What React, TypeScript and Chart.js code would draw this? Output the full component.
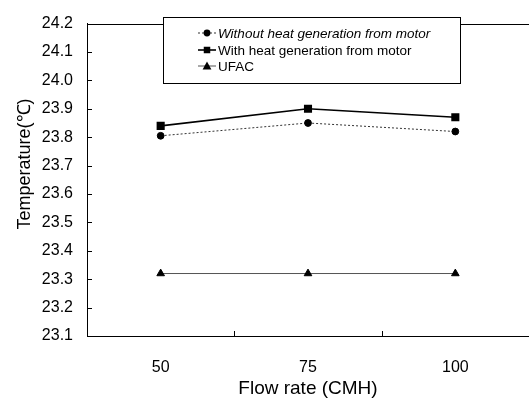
import React, { useEffect, useRef } from "react";
import { Chart, registerables } from "chart.js";

Chart.register(...registerables);

const categories = ["50", "75", "100"];
const seriesLabels = [
  "Without heat generation from motor",
  "With heat generation from motor",
  "UFAC",
];
const withoutHeat = [23.805, 23.85, 23.82];
const withHeat = [23.84, 23.9, 23.87];
const ufac = [23.32, 23.32, 23.32];
const yMin = 23.1;
const yMax = 24.2;
const yStep = 0.1;
const yTitle = "Temperature(℃)";
const xTitle = "Flow rate (CMH)";

const FONT = "'Liberation Sans', Arial, sans-serif";

const framePlugin = {
  id: "frame",
  afterDraw(chart: any) {
    const { ctx, chartArea: a, scales } = chart;
    const x = scales.x;
    const y = scales.y;
    ctx.save();
    ctx.strokeStyle = "#000";
    ctx.lineWidth = 1;
    const line = (x1: number, y1: number, x2: number, y2: number) => {
      ctx.beginPath();
      ctx.moveTo(x1, y1);
      ctx.lineTo(x2, y2);
      ctx.stroke();
    };
    // top border
    line(a.left, Math.round(a.top) + 0.5, a.right, Math.round(a.top) + 0.5);
    // inward y ticks
    y.ticks.forEach((_t: any, i: number) => {
      const py = Math.round(y.getPixelForTick(i)) + 0.5;
      line(a.left, py, a.left + 5, py);
    });
    // inward x ticks between categories
    for (let i = 1; i < x.ticks.length; i++) {
      const px = Math.round((x.getPixelForTick(i - 1) + x.getPixelForTick(i)) / 2) + 0.5;
      line(px, a.bottom, px, a.bottom - 5);
    }
    // y axis title
    ctx.save();
    ctx.translate(25, 164);
    ctx.rotate(-Math.PI / 2);
    ctx.fillStyle = "#000";
    ctx.font = "18px " + FONT;
    ctx.textAlign = "center";
    ctx.textBaseline = "middle";
    ctx.fillText(yTitle, 0, 0);
    ctx.restore();
    // legend box
    const lx = 163.5;
    const ly = 17.5;
    const lw = 297;
    const lh = 66;
    ctx.fillStyle = "#fff";
    ctx.fillRect(lx, ly, lw, lh);
    ctx.strokeStyle = "#000";
    ctx.strokeRect(lx, ly, lw, lh);
    const rows = [33, 50, 66];
    chart.data.datasets.forEach((ds: any, i: number) => {
      const ry = rows[i];
      ctx.save();
      ctx.strokeStyle = ds.borderColor;
      ctx.lineWidth = ds.borderWidth;
      ctx.setLineDash(ds.borderDash || []);
      line(198, ry, 216, ry);
      ctx.restore();
      ctx.save();
      ctx.fillStyle = "#000";
      const r = ds.pointRadius;
      ctx.beginPath();
      if (ds.pointStyle === "circle") {
        ctx.arc(207, ry, r, 0, Math.PI * 2);
      } else if (ds.pointStyle === "rect") {
        const s = r * Math.SQRT1_2;
        ctx.rect(207 - s, ry - s, 2 * s, 2 * s);
      } else {
        ctx.moveTo(207, ry - r);
        ctx.lineTo(207 + r, ry + r * 0.8);
        ctx.lineTo(207 - r, ry + r * 0.8);
        ctx.closePath();
      }
      ctx.fill();
      ctx.restore();
      ctx.fillStyle = "#000";
      ctx.font = (i === 0 ? "italic 13.5px " : "13.5px ") + FONT;
      ctx.textBaseline = "middle";
      ctx.textAlign = "left";
      ctx.fillText(ds.label, 218, ry + 1);
    });
    ctx.restore();
  },
};

export default function App() {
  const ref = useRef<HTMLCanvasElement | null>(null);
  useEffect(() => {
    if (!ref.current) return;
    const chart = new Chart(ref.current, {
      type: "line",
      data: {
        labels: categories,
        datasets: [
          {
            label: seriesLabels[0],
            data: withoutHeat,
            borderColor: "#333",
            backgroundColor: "#000",
            borderWidth: 1,
            borderDash: [2, 2],
            pointStyle: "circle",
            pointRadius: 3.4,
            pointBackgroundColor: "#000",
            pointBorderColor: "#000",
            tension: 0,
          },
          {
            label: seriesLabels[1],
            data: withHeat,
            borderColor: "#000",
            backgroundColor: "#000",
            borderWidth: 1.6,
            pointStyle: "rect",
            pointRadius: 4.6,
            pointBackgroundColor: "#000",
            pointBorderColor: "#000",
            tension: 0,
          },
          {
            label: seriesLabels[2],
            data: ufac,
            borderColor: "#555",
            backgroundColor: "#000",
            borderWidth: 1,
            pointStyle: "triangle",
            pointRadius: 4.4,
            pointBackgroundColor: "#000",
            pointBorderColor: "#000",
            tension: 0,
          },
        ],
      },
      options: {
        responsive: false,
        animation: false,
        layout: { autoPadding: false, padding: { top: 16, right: 0, left: 0, bottom: 0 } },
        plugins: {
          legend: { display: false },
          tooltip: { enabled: false },
        },
        scales: {
          x: {
            type: "category",
            offset: true,
            grid: { display: false, drawTicks: false },
            border: { display: true, color: "#000", width: 1 },
            ticks: {
              color: "#000",
              padding: 22,
              font: { family: FONT, size: 16 },
            },
            title: {
              display: true,
              text: xTitle,
              color: "#000",
              font: { family: FONT, size: 19 },
              padding: { top: 0, bottom: 7 },
            },
            afterFit: (s: any) => {
              s.height = 71;
              s.paddingLeft = 0;
              s.paddingRight = 0;
            },
          },
          y: {
            min: yMin,
            max: yMax,
            grid: { display: false, drawTicks: false },
            border: { display: true, color: "#000", width: 1 },
            ticks: {
              stepSize: yStep,
              color: "#000",
              padding: 14,
              font: { family: FONT, size: 16 },
              callback: (v: any) => Number(v).toFixed(1),
            },
            title: { display: false },
            afterFit: (s: any) => {
              s.width = 87;
            },
          },
        },
      },
      plugins: [framePlugin],
    });
    return () => chart.destroy();
  }, []);
  return (
    <div style={{ position: "absolute", left: 0, top: 0, width: 529, height: 407, background: "#fff" }}>
      <canvas ref={ref} width={529} height={407} style={{ display: "block" }} />
    </div>
  );
}
